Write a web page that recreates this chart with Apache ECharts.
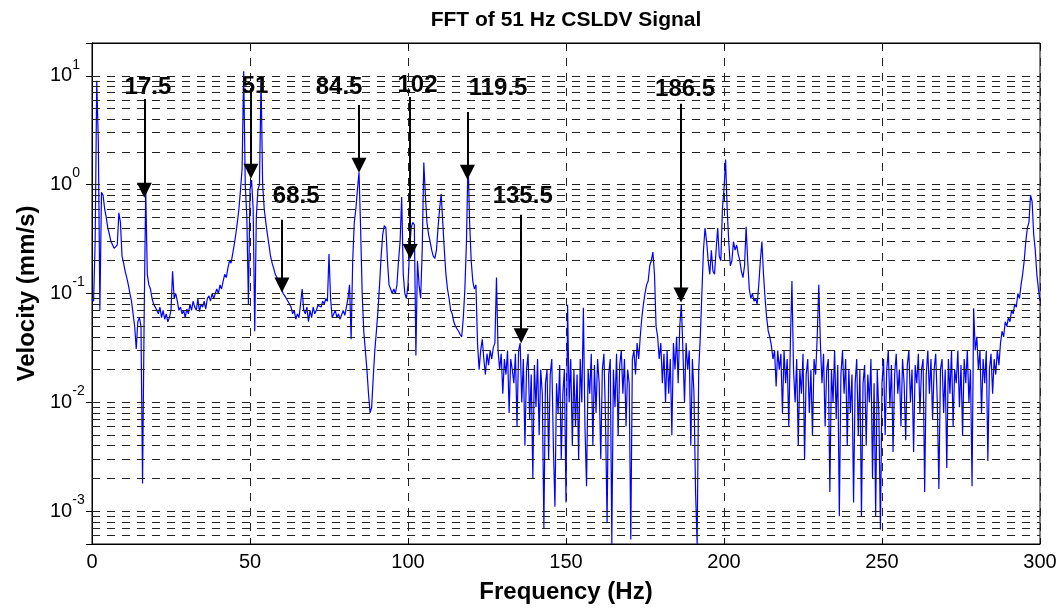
<!DOCTYPE html>
<html>
<head>
<meta charset="utf-8">
<title>FFT of 51 Hz CSLDV Signal</title>
<script src="https://cdn.jsdelivr.net/npm/echarts@6/dist/echarts.min.js"></script>
<style>
  html, body { margin: 0; padding: 0; background: #fff; }
  #chart { width: 1063px; height: 609px; }
</style>
</head>
<body>
<div id="chart"></div>
<script>
const FONT = '"Liberation Sans", Arial, Helvetica, sans-serif';

// FFT bin spacing (Hz); velocity magnitude per bin in mm/s
const binHz = 0.5;
const velocity = [
  0.09, 0.085, 0.3, 9.0, 2.5, 0.07, 0.85, 0.8, 0.6, 0.5,
  0.4, 0.35, 0.3, 0.28, 0.26, 0.27, 0.28, 0.55, 0.45, 0.22,
  0.19, 0.16, 0.14, 0.12, 0.1, 0.085, 0.065, 0.05, 0.031, 0.055,
  0.06, 0.05, 0.0018, 0.06, 0.9, 0.15, 0.12, 0.11, 0.09, 0.08,
  0.075, 0.07, 0.065, 0.075, 0.06, 0.07, 0.058, 0.065, 0.055, 0.06,
  0.07, 0.16, 0.09, 0.1, 0.085, 0.07, 0.075, 0.065, 0.07, 0.06,
  0.072, 0.065, 0.08, 0.07, 0.085, 0.075, 0.07, 0.09, 0.068, 0.08,
  0.075, 0.085, 0.072, 0.09, 0.095, 0.085, 0.1, 0.09, 0.1, 0.11,
  0.1, 0.12, 0.11, 0.13, 0.15, 0.14, 0.17, 0.2, 0.19, 0.23,
  0.28, 0.35, 0.45, 0.6, 0.9, 1.4, 11, 1.0, 0.5, 0.08,
  0.9, 1.1, 0.6, 0.045, 0.5, 0.9, 1.0, 9.5, 1.0, 0.6,
  0.45, 0.35, 0.28, 0.22, 0.19, 0.17, 0.15, 0.14, 0.13, 0.12,
  0.11, 0.1, 0.095, 0.09, 0.085, 0.08, 0.075, 0.065, 0.07, 0.058,
  0.065, 0.06, 0.08, 0.11, 0.07, 0.065, 0.075, 0.055, 0.07, 0.06,
  0.075, 0.065, 0.07, 0.078, 0.08, 0.075, 0.085, 0.08, 0.09, 0.085,
  0.23, 0.09, 0.06, 0.065, 0.07, 0.06, 0.065, 0.058, 0.06, 0.07,
  0.063, 0.075, 0.09, 0.12, 0.038, 0.2, 0.45, 0.6, 0.9, 1.3,
  0.4, 0.1, 0.045, 0.03, 0.02, 0.012, 0.008, 0.009, 0.017, 0.03,
  0.045, 0.07, 0.12, 0.22, 0.35, 0.42, 0.4, 0.2, 0.12, 0.11,
  0.1, 0.11, 0.1, 0.12, 0.2, 0.3, 0.77, 0.15, 0.1, 0.09,
  0.12, 0.25, 0.4, 0.45, 0.43, 0.027, 0.2, 0.12, 0.09, 0.25,
  1.6, 0.8, 0.45, 0.35, 0.3, 0.25, 0.22, 0.21, 0.25, 0.4,
  0.6, 0.82, 0.45, 0.25, 0.15, 0.11, 0.09, 0.07, 0.065, 0.055,
  0.05, 0.05, 0.045, 0.042, 0.04, 0.06, 0.11, 0.3, 1.7, 0.45,
  0.2, 0.13, 0.11, 0.12, 0.035, 0.02, 0.03, 0.038, 0.025, 0.018,
  0.028, 0.022, 0.03, 0.025, 0.032, 0.035, 0.14, 0.03, 0.02, 0.028,
  0.012, 0.025, 0.018, 0.03, 0.008, 0.025, 0.02, 0.015, 0.028, 0.006,
  0.03, 0.035, 0.01, 0.025, 0.004, 0.02, 0.028, 0.007, 0.018, 0.002,
  0.022, 0.009, 0.025, 0.005, 0.02, 0.012, 0.0007, 0.015, 0.02, 0.003,
  0.018, 0.025, 0.004, 0.0011, 0.015, 0.008, 0.022, 0.003, 0.012, 0.02,
  0.0012, 0.079, 0.01, 0.025, 0.004, 0.02, 0.006, 0.018, 0.003, 0.025,
  0.01, 0.074, 0.006, 0.0017, 0.02, 0.012, 0.028, 0.004, 0.022, 0.008,
  0.025, 0.015, 0.003, 0.02, 0.028, 0.007, 0.00078, 0.018, 0.025, 0.0005,
  0.02, 0.009, 0.028, 0.005, 0.022, 0.03, 0.012, 0.025, 0.006, 0.02,
  0.015, 0.00055, 0.025, 0.03, 0.018, 0.035, 0.025, 0.04, 0.06, 0.08,
  0.1, 0.12, 0.13, 0.18, 0.2, 0.24, 0.15, 0.05, 0.04, 0.025,
  0.035, 0.015, 0.028, 0.01, 0.03, 0.012, 0.025, 0.005, 0.035, 0.02,
  0.04, 0.015, 0.05, 0.08, 0.03, 0.01, 0.035, 0.02, 0.03, 0.004,
  0.025, 0.012, 0.0015, 0.0005, 0.02, 0.04, 0.1, 0.25, 0.4, 0.3,
  0.2, 0.15, 0.25, 0.16, 0.15, 0.25, 0.4, 0.22, 0.2, 0.6,
  0.9, 1.7, 0.6, 0.3, 0.18, 0.2, 0.3, 0.25, 0.28, 0.23,
  0.2, 0.16, 0.14, 0.18, 0.41, 0.2, 0.11, 0.09, 0.1, 0.085,
  0.09, 0.08, 0.12, 0.2, 0.3, 0.15, 0.09, 0.06, 0.045, 0.04,
  0.033, 0.025, 0.03, 0.014, 0.03, 0.02, 0.028, 0.008, 0.03, 0.015,
  0.025, 0.006, 0.035, 0.13, 0.02, 0.01, 0.025, 0.004, 0.02, 0.012,
  0.028, 0.003, 0.018, 0.025, 0.008, 0.02, 0.005, 0.025, 0.018, 0.04,
  0.12, 0.035, 0.015, 0.028, 0.006, 0.02, 0.025, 0.0015, 0.02, 0.01,
  0.03, 0.007, 0.022, 0.0009, 0.018, 0.03, 0.012, 0.025, 0.004, 0.02,
  0.008, 0.018, 0.0012, 0.015, 0.025, 0.005, 0.02, 0.0009, 0.015, 0.022,
  0.004, 0.018, 0.01, 0.025, 0.002, 0.015, 0.0009, 0.02, 0.008, 0.00068,
  0.015, 0.025, 0.005, 0.02, 0.03, 0.009, 0.022, 0.0035, 0.018, 0.028,
  0.012, 0.02, 0.006, 0.025, 0.015, 0.0045, 0.022, 0.03, 0.01, 0.02,
  0.0035, 0.022, 0.015, 0.028, 0.008, 0.02, 0.025, 0.0015, 0.018, 0.03,
  0.012, 0.025, 0.007, 0.02, 0.028, 0.01, 0.0016, 0.02, 0.025, 0.008,
  0.02, 0.0025, 0.025, 0.012, 0.03, 0.006, 0.02, 0.015, 0.03, 0.009,
  0.022, 0.005, 0.025, 0.015, 0.03, 0.01, 0.02, 0.0017, 0.073, 0.03,
  0.04, 0.02, 0.03, 0.008, 0.025, 0.015, 0.03, 0.0029, 0.02, 0.028,
  0.012, 0.025, 0.018, 0.03, 0.022, 0.035, 0.045, 0.04, 0.055, 0.05,
  0.06, 0.055, 0.07, 0.065, 0.08, 0.075, 0.1, 0.09, 0.12, 0.15,
  0.2, 0.3, 0.4, 0.45, 0.8, 0.7, 0.35, 0.25, 0.15, 0.11,
  0.085
];

// peak annotations: label text, label position, arrow x, arrow tail / head
const peakLabels  = ['17.5', '51', '84.5', '102', '119.5', '68.5', '135.5', '186.5'];
const labelHz     = [17.7, 51.6, 78.2, 103.0, 128.5, 64.6, 136.3, 187.7];
const labelVel    = [7.9, 8.05, 7.9, 8.1, 7.6, 0.773, 0.773, 7.5];
const arrowHz     = [16.55, 50.3, 84.5, 100.7, 118.8, 60.1, 135.8, 186.4];
const arrowTail   = [6.11, 7.55, 5.38, 6.38, 4.65, 0.476, 0.528, 5.53];
const arrowHead   = [0.887, 1.33, 1.51, 0.243, 1.30, 0.120, 0.041, 0.0967];

const xTicks = [0, 50, 100, 150, 200, 250, 300];
const yMin = 0.0005;
const yMax = 20;
const decades = [-4, -3, -2, -1, 0, 1];
const gridMultipliers = [1, 2, 3, 4, 5, 6, 7, 8, 9];

const spectrum = velocity.map((v, i) => [i * binHz, v]);

// MATLAB style log grid: one dashed line per 1..9 x 10^n inside the range
const logGrid = [];
decades.forEach((d) => {
  gridMultipliers.forEach((m) => {
    const v = m * Math.pow(10, d);
    if (v > yMin * 1.0001 && v < yMax * 0.9999) logGrid.push(v);
  });
});

const gridDash = [8, 7];
const gridColor = '#222';

const chart = echarts.init(document.getElementById('chart'));

chart.setOption({
  animation: false,
  backgroundColor: '#fff',
  title: {
    text: 'FFT of 51 Hz CSLDV Signal',
    left: 561,
    top: 5,
    textAlign: 'center',
    textStyle: {
      fontFamily: FONT,
      fontSize: 21,
      fontWeight: 'bold',
      color: '#000',
    },
  },
  grid: {
    left: 92,
    right: 23,
    top: 43,
    bottom: 65,
    show: true,
    borderColor: '#000',
    borderWidth: 1,
  },
  xAxis: [
    {
      type: 'value',
      min: xTicks[0],
      max: xTicks[xTicks.length - 1],
      interval: 50,
      name: 'Frequency (Hz)',
      nameLocation: 'middle',
      nameGap: 36,
      nameTextStyle: {
        fontFamily: FONT,
        fontSize: 24,
        fontWeight: 'bold',
        color: '#000',
      },
      axisLine: { lineStyle: { color: '#000', width: 1 } },
      axisTick: { inside: true, length: 6, lineStyle: { color: '#000' } },
      axisLabel: {
        fontFamily: FONT,
        fontSize: 20,
        color: '#000',
        margin: 8,
      },
      splitLine: {
        show: true,
        lineStyle: { color: gridColor, width: 1, type: gridDash },
      },
    },
    {
      type: 'value',
      position: 'top',
      min: xTicks[0],
      max: xTicks[xTicks.length - 1],
      interval: 50,
      axisLine: { lineStyle: { color: '#000', width: 1 } },
      axisTick: { inside: true, length: 6, lineStyle: { color: '#000' } },
      axisLabel: { show: false },
      splitLine: { show: false },
    },
  ],
  yAxis: [
    {
      type: 'log',
      logBase: 10,
      min: yMin,
      max: yMax,
      name: 'Velocity (mm/s)',
      nameLocation: 'middle',
      nameGap: 52,
      nameTextStyle: {
        fontFamily: FONT,
        fontSize: 24,
        fontWeight: 'bold',
        color: '#000',
      },
      axisLine: { lineStyle: { color: '#000', width: 1 } },
      axisTick: { inside: true, length: 6, lineStyle: { color: '#000' } },
      axisLabel: {
        align: 'left',
        margin: 42,
        formatter: (v) => {
          const e = Math.round(Math.log10(v));
          if (Math.abs(Math.log10(v) - e) > 0.01) return '';
          return '{b|10}{s|' + e + '}';
        },
        rich: {
          b: { fontFamily: FONT, fontSize: 20, color: '#000' },
          s: { fontFamily: FONT, fontSize: 14, color: '#000', padding: [0, 0, 22, 0] },
        },
      },
      splitLine: { show: false },
    },
    {
      type: 'log',
      logBase: 10,
      min: yMin,
      max: yMax,
      position: 'right',
      axisLine: { lineStyle: { color: '#000', width: 1 } },
      axisTick: { inside: true, length: 6, lineStyle: { color: '#000' } },
      axisLabel: { show: false },
      splitLine: { show: false },
    },
  ],
  series: [
    {
      name: 'grid',
      type: 'line',
      data: [],
      z: 1,
      silent: true,
      markLine: {
        silent: true,
        precision: 10,
        symbol: 'none',
        label: { show: false },
        lineStyle: { color: gridColor, width: 1, type: gridDash },
        data: logGrid.map((v) => ({ yAxis: v })),
      },
    },
    {
      name: 'Velocity',
      type: 'line',
      data: spectrum,
      z: 2,
      showSymbol: false,
      symbol: 'none',
      sampling: false,
      lineStyle: { color: '#0000ff', width: 1.2 },
      emphasis: { disabled: true },
    },
    {
      name: 'peaks',
      type: 'scatter',
      z: 4,
      silent: true,
      symbolSize: 0,
      itemStyle: { opacity: 1 },
      data: peakLabels.map((t, i) => ({ name: t, value: [labelHz[i], labelVel[i]] })),
      label: {
        show: true,
        position: 'inside',
        formatter: '{b}',
        fontFamily: FONT,
        fontSize: 24,
        fontWeight: 'bold',
        color: '#000',
        opacity: 1,
      },
      markLine: {
        silent: true,
        precision: 10,
        symbol: ['none', 'triangle'],
        symbolSize: 15,
        label: { show: false },
        lineStyle: { color: '#000', width: 2, type: 'solid', opacity: 1 },
        data: arrowHz.map((hz, i) => [
          { coord: [hz, arrowTail[i]] },
          { coord: [hz, arrowHead[i]] },
        ]),
      },
    },
  ],
});

window.addEventListener('resize', () => chart.resize());
</script>
</body>
</html>
